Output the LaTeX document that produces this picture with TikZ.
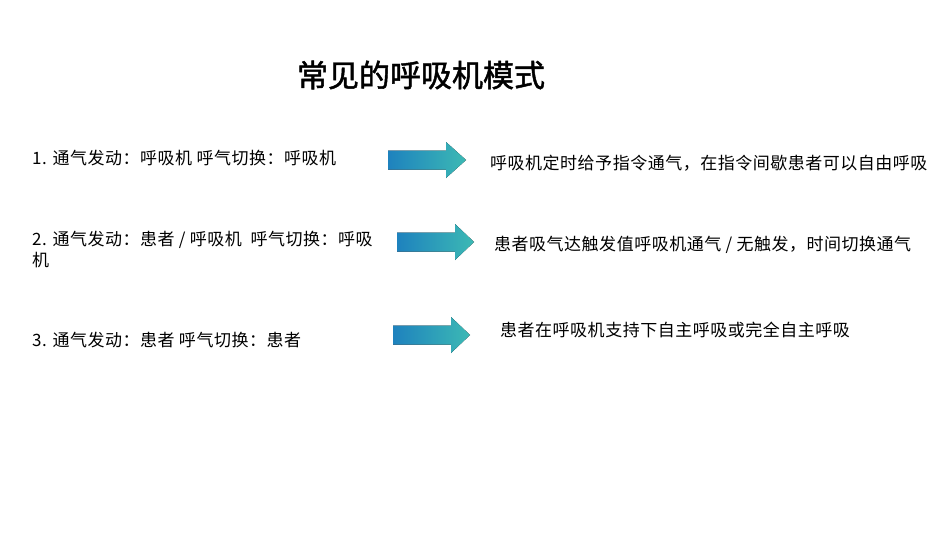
\documentclass[tikz,border=0pt]{standalone}
\usepackage{fontspec}
\setmainfont{Liberation Serif}
\newfontfamily\cjk{Noto Sans CJK SC}[LetterSpace=3]
\newfontfamily\cjkb{Noto Sans CJK SC}[FakeBold=1.5]
\tikzset{lbl/.style={anchor=west,inner sep=0pt,font=\fontsize{17}{21}\selectfont\cjk},
arr/.style={shade,draw=none}}
\newcommand\bigarrow[3]{\fill[arr,left color={rgb,255:red,30;green,130;blue,190},right color={rgb,255:red,60;green,185;blue,180}]
 (#1,-#3+9.5) -- (#1+58,-#3+9.5) -- (#1+58,-#3+18) -- (#2,-#3) -- (#1+58,-#3-18) -- (#1+58,-#3-9.5) -- (#1,-#3-9.5) -- cycle;}
\begin{document}
\begin{tikzpicture}[x=1pt,y=1pt]
\useasboundingbox (0,0) rectangle (950,-535);
\node[anchor=center,font=\fontsize{31}{35}\selectfont\cjkb] (title) at (421,-75) {常见的呼吸机模式};
\node[lbl] (l1) at (32,-158) {1. 通气发动：呼吸机\ 呼气切换：呼吸机};
\node[lbl,align=left,anchor=north west] (l2) at (32,-231) {2. 通气发动：患者 / 呼吸机\ \ 呼气切换：呼吸\\机};
\node[lbl] (l3) at (32,-340) {3. 通气发动：患者\ 呼气切换：患者};
\bigarrow{388}{466}{160}
\bigarrow{397}{474}{242}
\bigarrow{393}{470}{335}
\node[lbl] (r1) at (490,-163) {呼吸机定时给予指令通气，在指令间歇患者可以自由呼吸};
\node[lbl] (r2) at (494,-245) {患者吸气达触发值呼吸机通气 / 无触发，时间切换通气};
\node[lbl] (r3) at (500,-330) {患者在呼吸机支持下自主呼吸或完全自主呼吸};
\end{tikzpicture}
\end{document}
